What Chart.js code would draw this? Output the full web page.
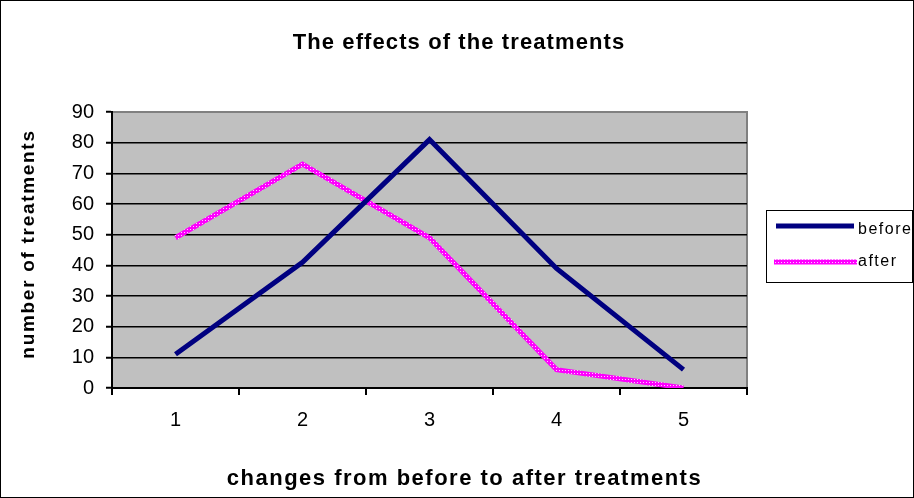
<!DOCTYPE html>
<html>
<head>
<meta charset="utf-8">
<script src="https://cdn.jsdelivr.net/npm/chart.js@4/dist/chart.umd.min.js"></script>
<style>
html,body{margin:0;padding:0;background:#fff;}
#wrap{width:914px;height:498px;position:relative;}
</style>
</head>
<body>
<div id="wrap"><canvas id="c" width="914" height="498"></canvas></div>
<script>
const categories = ['1', '2', '3', '4', '5'];
const beforeValues = [11, 41, 81, 39, 6];
const afterValues = [49, 73, 49, 6, 0];
const seriesNames = ['before', 'after'];
const yTicks = [0, 10, 20, 30, 40, 50, 60, 70, 80, 90];

const FONT = "'Liberation Sans', Arial, sans-serif";

function makePattern() {
  const p = document.createElement('canvas');
  p.width = 3; p.height = 3;
  const g = p.getContext('2d');
  g.fillStyle = '#FF00FF';
  g.fillRect(0, 0, 3, 3);
  g.fillStyle = '#FFD0FF';
  g.fillRect(1, 1, 1, 1);
  return document.getElementById('c').getContext('2d').createPattern(p, 'repeat');
}
const afterPattern = makePattern();

function wrapDraw(obj, name, spacing, dx, dy) {
  if (!obj || obj['_w_' + name]) return;
  const orig = obj[name].bind(obj);
  obj[name] = function(...args) {
    const ctx = this.ctx || obj.ctx;
    ctx.save();
    ctx.letterSpacing = spacing;
    ctx.translate(dx, dy);
    orig(...args);
    ctx.restore();
  };
  obj['_w_' + name] = true;
}

const bgPlugin = {
  id: 'bgPlugin',
  beforeDraw(chart) {
    const ctx = chart.ctx;
    const a = chart.chartArea;
    ctx.save();
    ctx.fillStyle = '#fff';
    ctx.fillRect(0, 0, chart.width, chart.height);
    ctx.fillStyle = '#C0C0C0';
    ctx.fillRect(a.left, a.top, a.right - a.left, a.bottom - a.top);
    ctx.strokeStyle = '#808080';
    ctx.lineWidth = 2;
    ctx.beginPath();
    ctx.moveTo(a.left, a.top);
    ctx.lineTo(a.right, a.top);
    ctx.lineTo(a.right, a.bottom);
    ctx.stroke();
    ctx.restore();
  },
  afterLayout(chart) {
    if (chart.titleBlock) wrapDraw(chart.titleBlock, 'draw', '1.1px', 2, 0);
    if (chart.scales.x) wrapDraw(chart.scales.x, 'drawTitle', '1.5px', 35, 0);
    if (chart.scales.y) wrapDraw(chart.scales.y, 'drawTitle', '1.7px', 0, -6);
  },
  afterDraw(chart) {
    const ctx = chart.ctx;
    ctx.save();
    ctx.letterSpacing = '1.5px';
    ctx.strokeStyle = '#000';
    ctx.lineWidth = 1;
    ctx.strokeRect(766.5, 210.5, 146, 72);
    const ds = chart.data.datasets;
    const items = [
      {y: 226, x0: 776, x1: 854, tx: 858, ty: 229.5},
      {y: 262, x0: 774, x1: 857, tx: 858, ty: 261.5}
    ];
    items.forEach((it, i) => {
      ctx.strokeStyle = ds[i].borderColor;
      ctx.lineWidth = ds[i].borderWidth;
      ctx.beginPath();
      ctx.moveTo(it.x0, it.y);
      ctx.lineTo(it.x1, it.y);
      ctx.stroke();
      ctx.fillStyle = '#000';
      ctx.font = '16px ' + FONT;
      ctx.textBaseline = 'middle';
      ctx.textAlign = 'left';
      ctx.fillText(ds[i].label, it.tx, it.ty);
    });
    ctx.letterSpacing = '0px';
    ctx.strokeStyle = '#000';
    ctx.lineWidth = 1;
    ctx.strokeRect(0.5, 0.5, chart.width - 1, chart.height - 1);
    ctx.restore();
  }
};

new Chart(document.getElementById('c'), {
  type: 'line',
  data: {
    labels: categories,
    datasets: [
      {
        label: seriesNames[0],
        data: beforeValues,
        borderColor: '#000080',
        backgroundColor: '#000080',
        borderWidth: 5,
        pointRadius: 0,
        tension: 0,
        fill: false
      },
      {
        label: seriesNames[1],
        data: afterValues,
        borderColor: afterPattern,
        backgroundColor: afterPattern,
        borderWidth: 5,
        pointRadius: 0,
        tension: 0,
        fill: false
      }
    ]
  },
  options: {
    responsive: false,
    animation: false,
    devicePixelRatio: 1,
    layout: { padding: { left: 0, right: 0, top: 0, bottom: 0 } },
    plugins: {
      legend: { display: false },
      tooltip: { enabled: false },
      title: {
        display: true,
        text: 'The effects of the treatments',
        color: '#000',
        font: { family: FONT, size: 22, weight: 'bold', lineHeight: 1.2 },
        padding: { top: 30, bottom: 55.6 }
      }
    },
    scales: {
      x: {
        type: 'category',
        offset: true,
        grid: {
          display: true,
          offset: true,
          drawOnChartArea: false,
          drawTicks: true,
          tickLength: 7,
          color: '#000',
          lineWidth: 2
        },
        border: { display: true, color: '#000', width: 2 },
        ticks: {
          color: '#000',
          font: { family: FONT, size: 20 },
          padding: 13,
          maxRotation: 0,
          autoSkip: false
        },
        title: {
          display: true,
          text: 'changes from before to after treatments',
          color: '#000',
          font: { family: FONT, size: 22, weight: 'bold', lineHeight: 1.2 },
          padding: { top: 0, bottom: 5.8 }
        },
        afterFit(s) { s.height = 110; }
      },
      y: {
        min: 0,
        max: 90,
        afterBuildTicks(s) { s.ticks = yTicks.map(v => ({ value: v })); },
        grid: {
          display: true,
          drawOnChartArea: true,
          drawTicks: true,
          tickLength: 6,
          color: ctx => (ctx.tick && ctx.tick.value === 90) ? '#808080' : '#000',
          lineWidth: 1.5,
          tickColor: '#000',
          tickWidth: 2
        },
        border: { display: true, color: '#000', width: 2 },
        ticks: {
          color: '#000',
          font: { family: FONT, size: 20 },
          padding: 12
        },
        title: {
          display: true,
          text: 'number of treatments',
          color: '#000',
          font: { family: FONT, size: 19, weight: 'bold', lineHeight: 1.2 },
          padding: { top: 17.6, bottom: 0 }
        },
        afterFit(s) { s.width = 112; }
      },
      spacer: {
        type: 'linear',
        position: 'right',
        display: true,
        grid: { display: false, drawTicks: false },
        border: { display: false },
        ticks: { display: false },
        title: { display: false },
        afterFit(s) { s.width = 167; }
      }
    }
  },
  plugins: [bgPlugin]
});
</script>
</body>
</html>
